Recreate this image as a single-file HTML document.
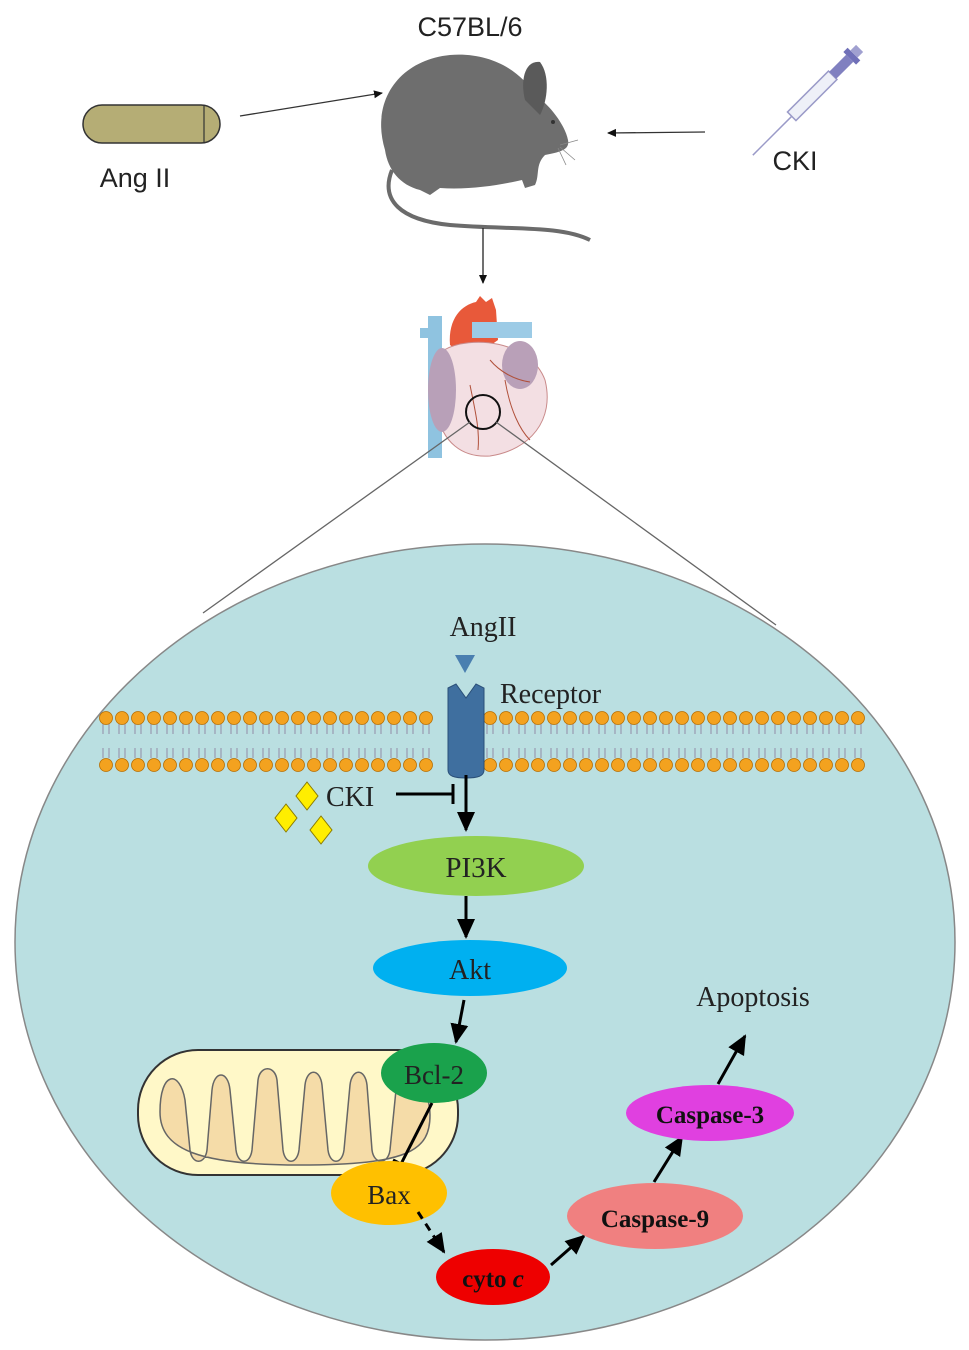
<!DOCTYPE html>
<html><head><meta charset="utf-8"><style>
html,body{margin:0;padding:0;background:#fff;}
svg{display:block;}
</style></head><body>
<svg width="969" height="1350" viewBox="0 0 969 1350" xmlns="http://www.w3.org/2000/svg">
<defs>
<marker id="a" markerWidth="10" markerHeight="10" refX="8" refY="5" orient="auto" markerUnits="userSpaceOnUse"><path d="M0,1 L9,5 L0,9 z" fill="#111"/></marker>
<marker id="b" markerWidth="22" markerHeight="22" refX="18" refY="11" orient="auto" markerUnits="userSpaceOnUse"><path d="M0,2 L20,11 L0,20 z" fill="#000"/></marker>
</defs>
<text x="470" y="36" font-family="Liberation Sans, sans-serif" font-size="27" text-anchor="middle" fill="#222">C57BL/6</text>
<rect x="83" y="105" width="137" height="38" rx="19" fill="#b5ad75" stroke="#333" stroke-width="1.5"/>
<line x1="204" y1="105" x2="204" y2="143" stroke="#333" stroke-width="1.2"/>
<text x="135" y="187" font-family="Liberation Sans, sans-serif" font-size="27" text-anchor="middle" fill="#222">Ang II</text>
<line x1="240" y1="116" x2="382" y2="93" stroke="#333" stroke-width="1.3" marker-end="url(#a)"/>
<line x1="705" y1="132" x2="608" y2="133" stroke="#333" stroke-width="1.3" marker-end="url(#a)"/>
<text x="795" y="170" font-family="Liberation Sans, sans-serif" font-size="27" text-anchor="middle" fill="#222">CKI</text>
<g transform="translate(820,88) rotate(-45)">
<rect x="-40" y="-6" width="58" height="12" fill="#eef0f8" stroke="#9a9ac8" stroke-width="1.5"/>
<rect x="18" y="-5" width="24" height="10" fill="#8080c0"/>
<rect x="42" y="-9" width="6" height="18" fill="#7070b8"/>
<rect x="48" y="-5" width="8" height="10" fill="#a0a0d0"/>
<line x1="-40" y1="0" x2="-95" y2="0" stroke="#9a9ac8" stroke-width="1.5"/>
</g>
<!-- mouse -->
<path d="M392,170 C380,200 400,220 450,225 C510,230 560,225 590,240" stroke="#6b6b6b" stroke-width="4" fill="none"/>
<path d="M385,150 C370,100 400,60 450,55 C490,52 520,70 535,95 C550,105 565,125 568,140 C570,150 560,152 545,155 C535,165 540,175 535,185 L525,188 L522,180 C500,185 470,190 440,188 L430,195 L420,190 C400,185 388,170 385,150 z" fill="#6e6e6e"/>
<path d="M525,100 C520,80 525,60 540,62 C550,75 548,100 540,115 z" fill="#5a5a5a"/>
<circle cx="553" cy="122" r="2" fill="#333"/>
<g stroke="#888" stroke-width="0.8"><line x1="560" y1="145" x2="578" y2="140"/><line x1="560" y1="147" x2="575" y2="160"/><line x1="558" y1="148" x2="566" y2="165"/></g>
<line x1="483" y1="228" x2="483" y2="283" stroke="#222" stroke-width="1.3" marker-end="url(#a)"/>
<!-- heart -->
<rect x="428" y="316" width="14" height="142" fill="#8fc3e0"/>
<rect x="420" y="328" width="10" height="10" fill="#8fc3e0"/>
<path d="M450,345 C448,318 462,305 476,302 L480,296 L486,302 L492,298 L496,310 L498,340 L470,360 z" fill="#e8593a"/>
<rect x="472" y="322" width="60" height="16" fill="#9ccbe6"/>
<path d="M444,350 C470,335 530,340 545,380 C555,420 530,450 490,456 C462,458 442,442 437,412 C432,382 434,360 444,350 z" fill="#f3dfe3" stroke="#c98a8a" stroke-width="1"/>
<ellipse cx="442" cy="390" rx="14" ry="42" fill="#b8a0b8"/>
<ellipse cx="520" cy="365" rx="18" ry="24" fill="#b9a0b8"/>
<g stroke="#b0503a" stroke-width="1" fill="none"><path d="M470,385 C475,410 480,430 478,450"/><path d="M505,380 C510,410 520,430 530,440"/><path d="M490,360 C500,372 515,380 530,382"/></g>
<circle cx="483" cy="412" r="17" fill="none" stroke="#111" stroke-width="2"/>
<line x1="470" y1="422" x2="203" y2="613" stroke="#666" stroke-width="1.3"/>
<line x1="496" y1="422" x2="776" y2="625" stroke="#666" stroke-width="1.3"/>
<ellipse cx="485" cy="942" rx="470" ry="398" fill="#badfe1" stroke="#888" stroke-width="1.5"/>
<g id="membrane"></g>
<text x="483" y="636" font-family="Liberation Serif, serif" font-size="28" text-anchor="middle" fill="#222">AngII</text>
<path d="M455,655 L475,655 L465,673 z" fill="#4a7fb0"/>
<text x="500" y="703" font-family="Liberation Serif, serif" font-size="28" fill="#222">Receptor</text>
<text x="326" y="806" font-family="Liberation Serif, serif" font-size="28" fill="#222">CKI</text>
<g fill="#ffee00" stroke="#8a7a00" stroke-width="1">
<path d="M307,782 L318,796 L307,810 L296,796 z"/>
<path d="M286,804 L297,818 L286,832 L275,818 z"/>
<path d="M321,816 L332,830 L321,844 L310,830 z"/>
</g>
<line x1="396" y1="794" x2="452" y2="794" stroke="#000" stroke-width="3"/>
<line x1="453" y1="784" x2="453" y2="804" stroke="#000" stroke-width="3"/>
<line x1="466" y1="775" x2="466" y2="830" stroke="#000" stroke-width="3" marker-end="url(#b)"/>
<ellipse cx="476" cy="866" rx="108" ry="30" fill="#92d050"/>
<text x="476" y="877" font-family="Liberation Serif, serif" font-size="29" text-anchor="middle" fill="#222">PI3K</text>
<line x1="466" y1="896" x2="466" y2="937" stroke="#000" stroke-width="3" marker-end="url(#b)"/>
<ellipse cx="470" cy="968" rx="97" ry="28" fill="#00b0f0"/>
<text x="470" y="979" font-family="Liberation Serif, serif" font-size="28" text-anchor="middle" fill="#222">Akt</text>
<line x1="464" y1="1000" x2="456" y2="1042" stroke="#000" stroke-width="3" marker-end="url(#b)"/>
<rect x="138" y="1050" width="320" height="125" rx="60" fill="#fff8c8" stroke="#333" stroke-width="2"/>
<path d="M160,1112 C160,1070 180,1070 185,1100 L190,1150 C192,1165 205,1165 207,1150 L212,1090 C214,1070 228,1070 230,1090 L236,1150 C238,1165 250,1165 252,1150 L258,1080 C260,1065 275,1065 277,1080 L283,1150 C285,1165 297,1165 299,1150 L305,1085 C307,1068 320,1068 322,1085 L328,1150 C330,1165 342,1165 344,1150 L350,1085 C352,1068 365,1068 367,1085 L372,1150 C374,1165 388,1165 390,1150 L396,1090 C400,1068 430,1080 430,1115 C430,1150 410,1165 300,1165 C200,1165 160,1150 160,1112 z" fill="#f5dca8" stroke="#666" stroke-width="1.5"/>
<ellipse cx="434" cy="1073" rx="53" ry="30" fill="#1aa24c"/>
<text x="434" y="1084" font-family="Liberation Serif, serif" font-size="27" text-anchor="middle" fill="#222">Bcl-2</text>
<line x1="432" y1="1103" x2="401" y2="1164" stroke="#000" stroke-width="3"/>
<line x1="393" y1="1160" x2="409" y2="1168" stroke="#000" stroke-width="3"/>
<ellipse cx="389" cy="1193" rx="58" ry="32" fill="#ffc000"/>
<text x="389" y="1204" font-family="Liberation Serif, serif" font-size="27" text-anchor="middle" fill="#222">Bax</text>
<line x1="418" y1="1212" x2="444" y2="1252" stroke="#000" stroke-width="3" stroke-dasharray="8,6" marker-end="url(#b)"/>
<ellipse cx="493" cy="1277" rx="57" ry="28" fill="#ee0000"/>
<text x="493" y="1287" font-family="Liberation Serif, serif" font-size="25" font-weight="bold" text-anchor="middle" fill="#111">cyto <tspan font-style="italic">c</tspan></text>
<line x1="551" y1="1265" x2="584" y2="1236" stroke="#000" stroke-width="3" marker-end="url(#b)"/>
<ellipse cx="655" cy="1216" rx="88" ry="33" fill="#f08080"/>
<text x="655" y="1227" font-family="Liberation Serif, serif" font-size="25" font-weight="bold" text-anchor="middle" fill="#111">Caspase-9</text>
<line x1="654" y1="1182" x2="682" y2="1137" stroke="#000" stroke-width="3" marker-end="url(#b)"/>
<ellipse cx="710" cy="1113" rx="84" ry="28" fill="#e040e0"/>
<text x="710" y="1123" font-family="Liberation Serif, serif" font-size="25" font-weight="bold" text-anchor="middle" fill="#111">Caspase-3</text>
<line x1="718" y1="1084" x2="745" y2="1036" stroke="#000" stroke-width="3" marker-end="url(#b)"/>
<text x="753" y="1006" font-family="Liberation Serif, serif" font-size="28" text-anchor="middle" fill="#222">Apoptosis</text>
</svg>
<script>
(function(){
var g=document.getElementById("membrane");
var s="";
for(var x=106;x<=862;x+=16){
 if(x>440&&x<490)continue;
 s+='<path d="M'+(x-3)+',724 v10 M'+(x+3)+',724 v10 M'+(x-3)+',748 v10 M'+(x+3)+',748 v10" stroke="#9a9ab0" stroke-width="1.2" fill="none"/>';
 s+='<circle cx="'+x+'" cy="718" r="6.5" fill="#f3a21f" stroke="#b86e00" stroke-width="0.8"/>';
 s+='<circle cx="'+x+'" cy="765" r="6.5" fill="#f3a21f" stroke="#b86e00" stroke-width="0.8"/>';
}
s+='<path d="M448,688 L456,684 L466,698 L476,684 L484,688 L484,770 C484,776 478,778 466,778 C454,778 448,776 448,770 z" fill="#3f6f9f" stroke="#2a4f78" stroke-width="1"/>';
g.innerHTML=s;
})();
</script>
</body></html>
